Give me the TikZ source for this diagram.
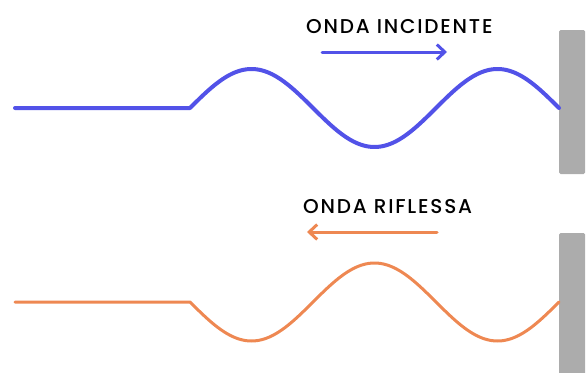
\documentclass[tikz,border=0pt]{standalone}
\usepackage{fontspec}
\setmainfont{Poppins}
\newfontfamily\lblfont[LetterSpace=9]{Poppins Medium}
\usetikzlibrary{arrows.meta}
\begin{document}
\begin{tikzpicture}[x=1pt,y=-1pt,
  wavein/.style={line width=4pt,color=incblue,line join=round,line cap=round},
  waveout/.style={line width=3pt,color=refor,line join=round,line cap=round},
  arr/.style={line width=3pt,line cap=round,-{Straight Barb[length=8pt,width=15pt,line width=3pt]}},
  wall/.style={fill=wallgray,draw=none,rounded corners=1.5pt},
  lbl/.style={anchor=base west,inner sep=0pt,font=\lblfont\fontsize{20}{22}\selectfont}
]
\definecolor{incblue}{RGB}{82,82,232}
\definecolor{refor}{RGB}{238,136,82}
\definecolor{wallgray}{RGB}{172,172,172}
\useasboundingbox (0,0) rectangle (586,372);
% walls
\fill[wall] (559,30) rectangle (585,174);
\fill[wall] (559,233) rectangle (585,380);
% incident wave
\draw[wavein] (15,108) -- (190,108)
  -- plot[domain=190:559,samples=150] (\x,{108-39*sin((\x-190)/246.0*360)});
% reflected wave
\draw[waveout] (15,302) -- (190,302)
  -- plot[domain=190:559,samples=150] (\x,{302+39*sin((\x-190)/246.0*360)});
% labels
\node[lbl] (tinc) at (306,33) {ONDA INCIDENTE};
\node[lbl] (trif) at (303,213) {ONDA RIFLESSA};
% arrows
\coordinate (a1s) at (322,52);
\coordinate (a1e) at (447,52);
\coordinate (a2s) at (437,232);
\coordinate (a2e) at (307,232);
\draw[arr,incblue] (a1s) -- (a1e);
\draw[arr,refor] (a2s) -- (a2e);
\end{tikzpicture}
\end{document}
